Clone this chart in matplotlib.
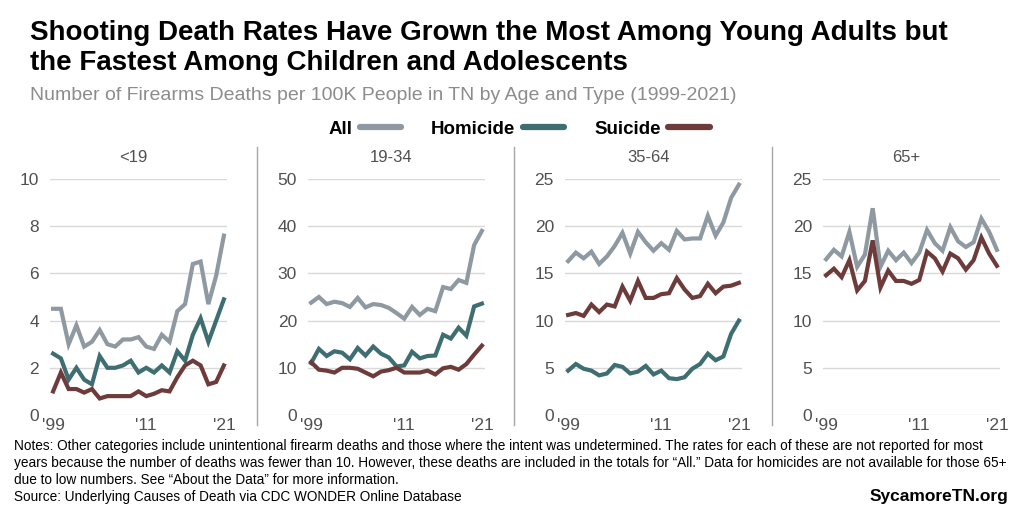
import matplotlib.pyplot as plt
from matplotlib.lines import Line2D

plt.rcParams['font.family'] = ['Liberation Sans', 'DejaVu Sans']

# ====== data ======
years = list(range(1999, 2022))
panels = ['<19', '19-34', '35-64', '65+']

all_u19 = [4.5, 4.5, 3.0, 3.8, 2.9, 3.1, 3.6, 3.0, 2.9, 3.2, 3.2, 3.3, 2.9, 2.8, 3.4, 3.1, 4.4, 4.7, 6.4, 6.5, 4.7, 5.9, 7.6]
hom_u19 = [2.6, 2.4, 1.5, 2.0, 1.5, 1.3, 2.5, 2.0, 2.0, 2.1, 2.3, 1.8, 2.0, 1.8, 2.1, 1.8, 2.7, 2.3, 3.4, 4.1, 3.1, 4.0, 4.9]
sui_u19 = [1.0, 1.8, 1.1, 1.1, 0.95, 1.1, 0.7, 0.8, 0.8, 0.8, 0.8, 1.0, 0.8, 0.9, 1.05, 1.0, 1.6, 2.1, 2.3, 2.1, 1.3, 1.4, 2.1]

all_19_34 = [23.8, 25.0, 23.5, 24.0, 23.7, 22.9, 24.8, 22.8, 23.5, 23.3, 22.7, 21.6, 20.4, 22.9, 21.2, 22.5, 22.0, 27.1, 26.7, 28.6, 28.0, 36.0, 39.0]
hom_19_34 = [11.0, 14.0, 12.5, 13.5, 13.2, 11.8, 14.2, 12.6, 14.5, 13.0, 12.2, 10.3, 10.5, 13.4, 12.0, 12.5, 12.6, 17.0, 16.2, 18.5, 16.8, 23.0, 23.6]
sui_19_34 = [11.2, 9.6, 9.4, 9.0, 10.0, 10.0, 9.8, 9.0, 8.2, 9.2, 9.5, 10.0, 9.0, 9.0, 9.0, 9.4, 8.6, 9.9, 10.2, 9.6, 10.8, 12.8, 14.7]

all_35_64 = [16.3, 17.2, 16.6, 17.3, 16.0, 16.8, 17.9, 19.3, 17.1, 19.4, 18.3, 17.4, 18.2, 17.5, 19.5, 18.6, 18.7, 18.7, 21.1, 19.0, 20.4, 23.0, 24.4]
hom_35_64 = [4.7, 5.4, 4.9, 4.7, 4.2, 4.4, 5.3, 5.1, 4.4, 4.6, 5.2, 4.3, 4.7, 3.9, 3.8, 4.0, 4.9, 5.4, 6.5, 5.8, 6.2, 8.6, 10.0]
sui_35_64 = [10.6, 10.8, 10.5, 11.7, 10.9, 11.7, 11.5, 13.6, 12.1, 14.2, 12.4, 12.4, 12.8, 12.9, 14.5, 13.3, 12.4, 12.6, 13.9, 12.9, 13.6, 13.7, 14.0]

all_65 = [16.5, 17.5, 16.8, 19.4, 15.7, 17.0, 21.9, 15.7, 17.4, 16.4, 17.2, 16.1, 17.2, 19.6, 18.2, 17.4, 19.9, 18.4, 17.8, 18.3, 20.8, 19.4, 17.5]
sui_65 = [14.8, 15.5, 14.6, 16.4, 13.2, 14.2, 18.5, 13.5, 15.3, 14.2, 14.2, 13.9, 14.3, 17.3, 16.6, 15.2, 17.1, 16.6, 15.4, 16.4, 18.8, 17.1, 15.8]

series = [
    (all_u19, hom_u19, sui_u19),
    (all_19_34, hom_19_34, sui_19_34),
    (all_35_64, hom_35_64, sui_35_64),
    (all_65, None, sui_65),
]
ymax = [10, 50, 25, 25]
ystep = [2, 10, 5, 5]

c_all = '#8E99A2'
c_hom = '#3F6E72'
c_sui = '#6E3B3B'
tick_c = '#505050'

# ====== figure ======
W, H = 1024, 512
fig = plt.figure(figsize=(W / 100, H / 100), dpi=100)

def fx(px):
    return px / W

def fy(py):
    return 1 - py / H

ax_left = [50, 308, 565, 823]
ax_w = 177
top_px, bot_px = 179, 415

for i, name in enumerate(panels):
    ax = fig.add_axes([fx(ax_left[i]), fy(bot_px), fx(ax_w), (bot_px - top_px) / H])
    a, h, s = series[i]
    ax.plot(years, a, color=c_all, lw=3, solid_joinstyle='miter')
    if h is not None:
        ax.plot(years, h, color=c_hom, lw=3, solid_joinstyle='miter')
    ax.plot(years, s, color=c_sui, lw=3, solid_joinstyle='miter')
    ax.set_xlim(1998.6, 2021.4)
    ax.set_ylim(0, ymax[i])
    ax.set_yticks(range(0, ymax[i] + 1, ystep[i]))
    ax.set_xticks([1999, 2011, 2021])
    ax.set_xticklabels(["'99", "'11", "'21"])
    ax.grid(axis='y', color='#D9D9D9', lw=1)
    ax.set_axisbelow(True)
    for sp in ax.spines.values():
        sp.set_visible(False)
    ax.tick_params(length=0, labelsize=12.5, labelcolor=tick_c, pad=8)
    ax.tick_params(axis='x', pad=2)
    fig.text(fx(ax_left[i] + ax_w / 2 - 5), fy(157), name, ha='center', va='center',
             fontsize=12, color=tick_c)
    if i > 0:
        x0 = ax_left[i] - 51
        fig.add_artist(Line2D([fx(x0), fx(x0)], [fy(147), fy(425)], color='#A6A6A6', lw=1))

# ====== titles ======
fig.text(fx(30), fy(33), 'Shooting Death Rates Have Grown the Most Among Young Adults but',
         fontsize=20, fontweight='bold', va='center', ha='left')
fig.text(fx(30), fy(63), 'the Fastest Among Children and Adolescents',
         fontsize=20, fontweight='bold', va='center', ha='left')
fig.text(fx(30), fy(96), 'Number of Firearms Deaths per 100K People in TN by Age and Type (1999-2021)',
         fontsize=14, color='#8C8C8C', va='center', ha='left')

# ====== legend ======
handles = [Line2D([], [], color=c, lw=4.5, solid_capstyle='round') for c in (c_all, c_hom, c_sui)]
fig.legend(handles, ['All', 'Homicide', 'Suicide'], ncol=3, markerfirst=False,
           loc='center', bbox_to_anchor=(fx(519), fy(129)), frameon=False,
           prop={'weight': 'bold', 'size': 13.5}, handlelength=2.2, columnspacing=1.6,
           handletextpad=0.4)

# ====== notes ======
note_lines = [
    'Notes: Other categories include unintentional firearm deaths and those where the intent was undetermined. '
    'The rates for each of these are not reported for most',
    'years because the number of deaths was fewer than 10. However, these deaths are included in the totals '
    'for \u201cAll.\u201d Data for homicides are not available for those 65+',
    'due to low numbers. See \u201cAbout the Data\u201d for more information.',
    'Source: Underlying Causes of Death via CDC WONDER Online Database',
]
note_y = [446, 463, 480, 497]
for txt, y in zip(note_lines, note_y):
    fig.text(fx(14), fy(y), txt, fontsize=9.8, va='center', ha='left')
fig.text(fx(1008), fy(497), 'SycamoreTN.org', fontsize=12.5, fontweight='bold', va='center', ha='right')

fig.savefig('out.png', dpi=100)
